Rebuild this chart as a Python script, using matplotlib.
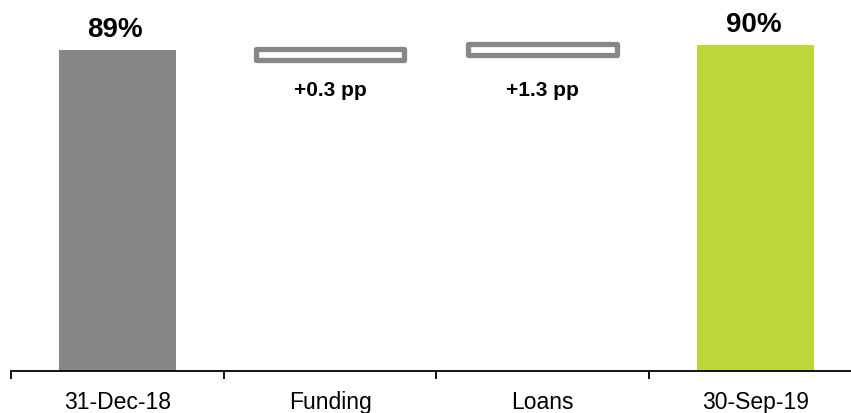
import matplotlib
matplotlib.use("Agg")
import matplotlib.pyplot as plt
from matplotlib.patches import Rectangle
import matplotlib.transforms as mtransforms

plt.rcParams['font.family'] = ['Liberation Sans', 'DejaVu Sans']

# ---- data ----
categories = ["31-Dec-18", "Funding", "Loans", "30-Sep-19"]
start_value = 88.9
deltas = [0.3, 1.3]
end_value = 90.4
total_labels = ["89%", "90%"]
delta_labels = ["+0.3 pp", "+1.3 pp"]

# ---- style ----
GRAY = "#878787"
GREEN = "#BED63A"
W, H, DPI = 851, 414, 100

fig = plt.figure(figsize=(W / DPI, H / DPI), dpi=DPI)
px_per_cat = 212.7
axis_y = 372.3
ax = fig.add_axes([11 / W, (H - axis_y) / H, 4 * px_per_cat / W, axis_y / H])

x = list(range(len(categories)))
ax.set_xlim(-0.5, len(categories) - 0.5)
ax.set_ylim(0, axis_y / 3.611)

# total bars
ax.bar([x[0], x[-1]], [start_value, end_value], width=0.55,
       color=[GRAY, GREEN], zorder=2)
for xi, val, lab in zip([x[0], x[-1]], [start_value, end_value], total_labels):
    ax.annotate(lab, (xi, val), xytext=(-1.5, 10), textcoords="offset points",
                ha="center", va="baseline", fontsize=20, fontweight="bold")

# floating delta boxes
level = start_value
box_h = 3.1
box_w = 0.70
blend = mtransforms.blended_transform_factory(ax.transData, ax.transAxes)
for i, (d, lab) in enumerate(zip(deltas, delta_labels)):
    level = level + d
    xi = x[i + 1]
    top = level + (0.15 if i else 0.0)
    rect = Rectangle((xi - box_w / 2, top - box_h), box_w, box_h,
                     facecolor="white", edgecolor=GRAY, linewidth=3.8,
                     joinstyle="round", zorder=3)
    ax.add_patch(rect)
    ax.text(xi, 0.742, lab, transform=blend, ha="center", va="baseline",
            fontsize=15, fontweight="bold")

# axes styling
for s in ["top", "right", "left"]:
    ax.spines[s].set_visible(False)
ax.spines["bottom"].set_linewidth(1.3)
ax.set_yticks([])
ax.set_xticks(x)
ax.set_xticklabels(categories, fontsize=16.5)
ax.tick_params(axis="x", which="major", length=0, pad=13.5)
ax.set_xticks([i - 0.5 for i in range(len(categories) + 1)], minor=True)
ax.tick_params(axis="x", which="minor", length=6, width=1.3, direction="out")

fig.savefig("out.png", dpi=DPI)
